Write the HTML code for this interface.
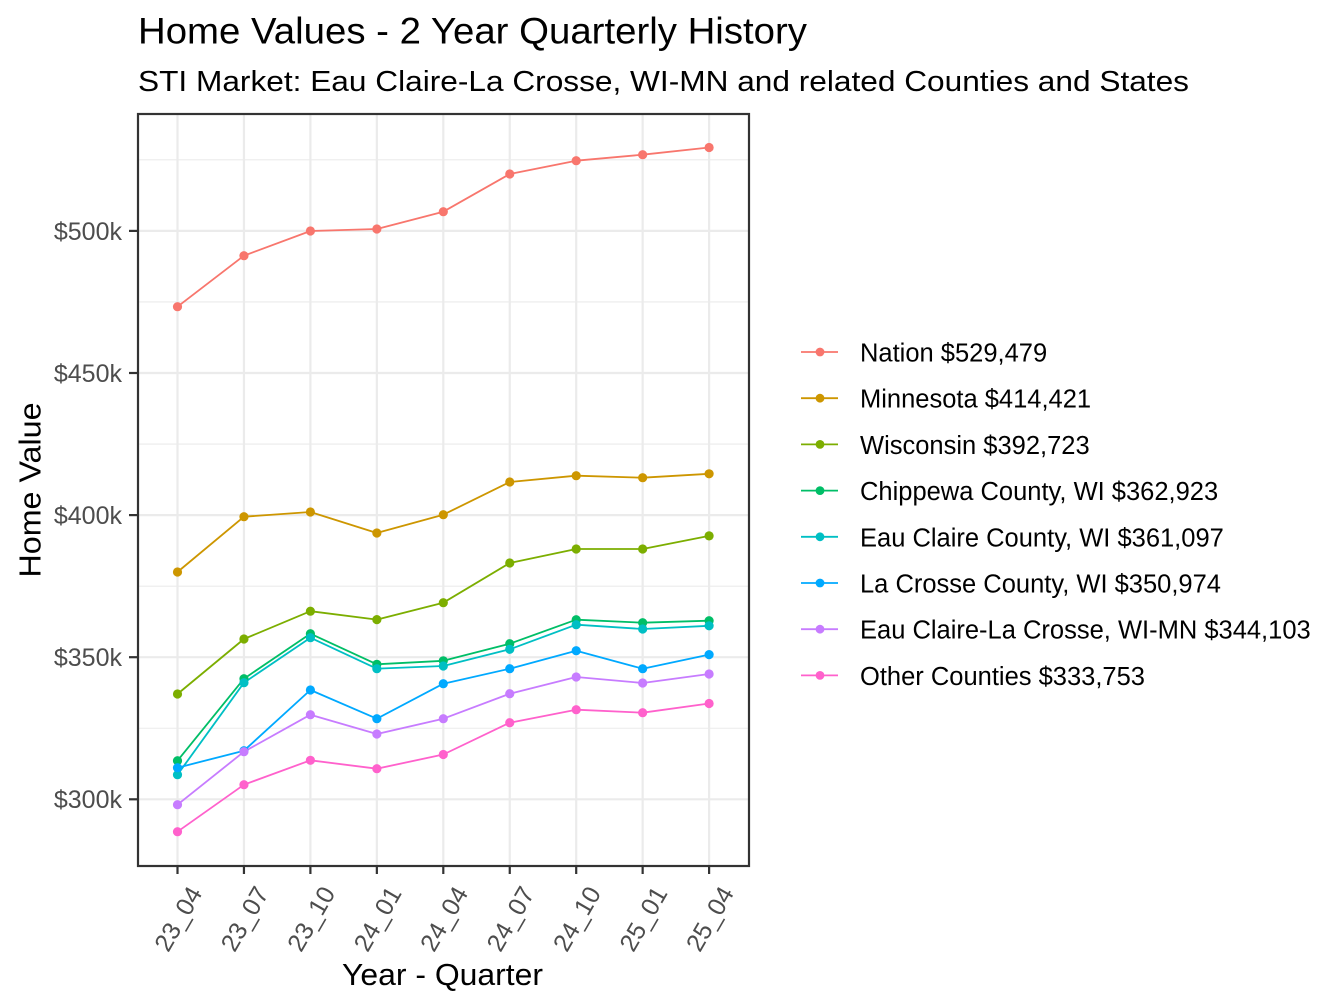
<!DOCTYPE html>
<html><head><meta charset="utf-8"><style>
html,body{margin:0;padding:0;background:#fff;}
svg{display:block;}
text{font-family:"Liberation Sans",Arial,sans-serif;}
</style></head><body>
<svg width="1344" height="1008" viewBox="0 0 1344 1008" xmlns="http://www.w3.org/2000/svg">
<rect x="0" y="0" width="1344" height="1008" fill="#fff"/>
<!-- titles -->
<text x="138" y="43.5" font-size="37" fill="#000" textLength="669" lengthAdjust="spacingAndGlyphs">Home Values - 2 Year Quarterly History</text>
<text x="138" y="91" font-size="29" fill="#000" textLength="1051" lengthAdjust="spacingAndGlyphs">STI Market: Eau Claire-La Crosse, WI-MN and related Counties and States</text>
<!-- panel -->
<rect x="138" y="114" width="611" height="752" fill="#fff"/>
<g stroke="#EBEBEB" stroke-width="1.1">
<line x1="138" x2="749" y1="159.85" y2="159.85"/>
<line x1="138" x2="749" y1="301.95" y2="301.95"/>
<line x1="138" x2="749" y1="444.05" y2="444.05"/>
<line x1="138" x2="749" y1="586.15" y2="586.15"/>
<line x1="138" x2="749" y1="728.25" y2="728.25"/>
</g>
<g stroke="#EBEBEB" stroke-width="2.2">
<line x1="138" x2="749" y1="230.9" y2="230.9"/>
<line x1="138" x2="749" y1="373" y2="373"/>
<line x1="138" x2="749" y1="515.1" y2="515.1"/>
<line x1="138" x2="749" y1="657.2" y2="657.2"/>
<line x1="138" x2="749" y1="799.3" y2="799.3"/>
<line y1="114" y2="866" x1="177.5" x2="177.5"/>
<line y1="114" y2="866" x1="243.95" x2="243.95"/>
<line y1="114" y2="866" x1="310.4" x2="310.4"/>
<line y1="114" y2="866" x1="376.85" x2="376.85"/>
<line y1="114" y2="866" x1="443.3" x2="443.3"/>
<line y1="114" y2="866" x1="509.75" x2="509.75"/>
<line y1="114" y2="866" x1="576.2" x2="576.2"/>
<line y1="114" y2="866" x1="642.65" x2="642.65"/>
<line y1="114" y2="866" x1="709.1" x2="709.1"/>
</g>
<!-- lines -->
<g fill="none" stroke-width="1.8" stroke-linejoin="round">
<polyline stroke="#F8766D" points="177.5,306.7 243.95,255.7 310.4,231 376.85,229 443.3,211.7 509.75,174 576.2,160.7 642.65,154.7 709.1,147.5"/>
<polyline stroke="#CD9600" points="177.5,572 243.95,516.7 310.4,512 376.85,533 443.3,514.7 509.75,482 576.2,475.7 642.65,477.7 709.1,473.8"/>
<polyline stroke="#7CAE00" points="177.5,694 243.95,639 310.4,611.2 376.85,619.6 443.3,602.7 509.75,563 576.2,549 642.65,549 709.1,535.9"/>
<polyline stroke="#00BE67" points="177.5,760.7 243.95,678.7 310.4,633.7 376.85,664.3 443.3,660.8 509.75,643.7 576.2,619.7 642.65,622.7 709.1,620.7"/>
<polyline stroke="#00BFC4" points="177.5,774.7 243.95,682.7 310.4,637.7 376.85,668.7 443.3,666 509.75,649.3 576.2,624.7 642.65,629 709.1,625.8"/>
<polyline stroke="#00A9FF" points="177.5,767.7 243.95,750.7 310.4,690 376.85,718.7 443.3,683.7 509.75,668.7 576.2,650.7 642.65,668.7 709.1,654.6"/>
<polyline stroke="#C77CFF" points="177.5,804.7 243.95,751.7 310.4,714.7 376.85,734 443.3,718.7 509.75,693.7 576.2,677 642.65,683 709.1,674"/>
<polyline stroke="#FF61CC" points="177.5,831.7 243.95,784.7 310.4,760.3 376.85,768.7 443.3,754.5 509.75,722.7 576.2,709.7 642.65,712.7 709.1,703.5"/>
</g>
<!-- points -->
<g fill="#F8766D"><circle cx="177.5" cy="306.7" r="4.6"/><circle cx="243.95" cy="255.7" r="4.6"/><circle cx="310.4" cy="231" r="4.6"/><circle cx="376.85" cy="229" r="4.6"/><circle cx="443.3" cy="211.7" r="4.6"/><circle cx="509.75" cy="174" r="4.6"/><circle cx="576.2" cy="160.7" r="4.6"/><circle cx="642.65" cy="154.7" r="4.6"/><circle cx="709.1" cy="147.5" r="4.6"/></g>
<g fill="#CD9600"><circle cx="177.5" cy="572" r="4.6"/><circle cx="243.95" cy="516.7" r="4.6"/><circle cx="310.4" cy="512" r="4.6"/><circle cx="376.85" cy="533" r="4.6"/><circle cx="443.3" cy="514.7" r="4.6"/><circle cx="509.75" cy="482" r="4.6"/><circle cx="576.2" cy="475.7" r="4.6"/><circle cx="642.65" cy="477.7" r="4.6"/><circle cx="709.1" cy="473.8" r="4.6"/></g>
<g fill="#7CAE00"><circle cx="177.5" cy="694" r="4.6"/><circle cx="243.95" cy="639" r="4.6"/><circle cx="310.4" cy="611.2" r="4.6"/><circle cx="376.85" cy="619.6" r="4.6"/><circle cx="443.3" cy="602.7" r="4.6"/><circle cx="509.75" cy="563" r="4.6"/><circle cx="576.2" cy="549" r="4.6"/><circle cx="642.65" cy="549" r="4.6"/><circle cx="709.1" cy="535.9" r="4.6"/></g>
<g fill="#00BE67"><circle cx="177.5" cy="760.7" r="4.6"/><circle cx="243.95" cy="678.7" r="4.6"/><circle cx="310.4" cy="633.7" r="4.6"/><circle cx="376.85" cy="664.3" r="4.6"/><circle cx="443.3" cy="660.8" r="4.6"/><circle cx="509.75" cy="643.7" r="4.6"/><circle cx="576.2" cy="619.7" r="4.6"/><circle cx="642.65" cy="622.7" r="4.6"/><circle cx="709.1" cy="620.7" r="4.6"/></g>
<g fill="#00BFC4"><circle cx="177.5" cy="774.7" r="4.6"/><circle cx="243.95" cy="682.7" r="4.6"/><circle cx="310.4" cy="637.7" r="4.6"/><circle cx="376.85" cy="668.7" r="4.6"/><circle cx="443.3" cy="666" r="4.6"/><circle cx="509.75" cy="649.3" r="4.6"/><circle cx="576.2" cy="624.7" r="4.6"/><circle cx="642.65" cy="629" r="4.6"/><circle cx="709.1" cy="625.8" r="4.6"/></g>
<g fill="#00A9FF"><circle cx="177.5" cy="767.7" r="4.6"/><circle cx="243.95" cy="750.7" r="4.6"/><circle cx="310.4" cy="690" r="4.6"/><circle cx="376.85" cy="718.7" r="4.6"/><circle cx="443.3" cy="683.7" r="4.6"/><circle cx="509.75" cy="668.7" r="4.6"/><circle cx="576.2" cy="650.7" r="4.6"/><circle cx="642.65" cy="668.7" r="4.6"/><circle cx="709.1" cy="654.6" r="4.6"/></g>
<g fill="#C77CFF"><circle cx="177.5" cy="804.7" r="4.6"/><circle cx="243.95" cy="751.7" r="4.6"/><circle cx="310.4" cy="714.7" r="4.6"/><circle cx="376.85" cy="734" r="4.6"/><circle cx="443.3" cy="718.7" r="4.6"/><circle cx="509.75" cy="693.7" r="4.6"/><circle cx="576.2" cy="677" r="4.6"/><circle cx="642.65" cy="683" r="4.6"/><circle cx="709.1" cy="674" r="4.6"/></g>
<g fill="#FF61CC"><circle cx="177.5" cy="831.7" r="4.6"/><circle cx="243.95" cy="784.7" r="4.6"/><circle cx="310.4" cy="760.3" r="4.6"/><circle cx="376.85" cy="768.7" r="4.6"/><circle cx="443.3" cy="754.5" r="4.6"/><circle cx="509.75" cy="722.7" r="4.6"/><circle cx="576.2" cy="709.7" r="4.6"/><circle cx="642.65" cy="712.7" r="4.6"/><circle cx="709.1" cy="703.5" r="4.6"/></g>
<!-- border -->
<rect x="138" y="114" width="611" height="752" fill="none" stroke="#333333" stroke-width="2.2"/>
<!-- ticks -->
<g stroke="#333333" stroke-width="2.2">
<line x1="129" x2="138" y1="230.9" y2="230.9"/>
<line x1="129" x2="138" y1="373" y2="373"/>
<line x1="129" x2="138" y1="515.1" y2="515.1"/>
<line x1="129" x2="138" y1="657.2" y2="657.2"/>
<line x1="129" x2="138" y1="799.3" y2="799.3"/>
<line y1="866" y2="874" x1="177.5" x2="177.5"/>
<line y1="866" y2="874" x1="243.95" x2="243.95"/>
<line y1="866" y2="874" x1="310.4" x2="310.4"/>
<line y1="866" y2="874" x1="376.85" x2="376.85"/>
<line y1="866" y2="874" x1="443.3" x2="443.3"/>
<line y1="866" y2="874" x1="509.75" x2="509.75"/>
<line y1="866" y2="874" x1="576.2" x2="576.2"/>
<line y1="866" y2="874" x1="642.65" x2="642.65"/>
<line y1="866" y2="874" x1="709.1" x2="709.1"/>
</g>
<g font-size="25" fill="#4D4D4D" text-anchor="end">
<text x="122" y="240">$500k</text>
<text x="122" y="382">$450k</text>
<text x="122" y="524">$400k</text>
<text x="122" y="666">$350k</text>
<text x="122" y="808">$300k</text>
</g>
<g font-size="25" fill="#4D4D4D" text-anchor="end">
<text transform="translate(203,893) rotate(-60)">23_04</text>
<text transform="translate(269.45,893) rotate(-60)">23_07</text>
<text transform="translate(335.9,893) rotate(-60)">23_10</text>
<text transform="translate(402.35,893) rotate(-60)">24_01</text>
<text transform="translate(468.8,893) rotate(-60)">24_04</text>
<text transform="translate(535.25,893) rotate(-60)">24_07</text>
<text transform="translate(601.7,893) rotate(-60)">24_10</text>
<text transform="translate(668.15,893) rotate(-60)">25_01</text>
<text transform="translate(734.6,893) rotate(-60)">25_04</text>
</g>
<!-- axis titles -->
<text x="442.5" y="985" font-size="31" fill="#000" text-anchor="middle" textLength="201" lengthAdjust="spacingAndGlyphs">Year - Quarter</text>
<text transform="translate(40.5,490) rotate(-90)" font-size="31" fill="#000" text-anchor="middle" textLength="175" lengthAdjust="spacingAndGlyphs">Home Value</text>
<!-- legend -->
<g stroke-width="1.8">
<line x1="801" x2="838" y1="352" y2="352" stroke="#F8766D"/>
<line x1="801" x2="838" y1="398.2" y2="398.2" stroke="#CD9600"/>
<line x1="801" x2="838" y1="444.4" y2="444.4" stroke="#7CAE00"/>
<line x1="801" x2="838" y1="490.6" y2="490.6" stroke="#00BE67"/>
<line x1="801" x2="838" y1="536.8" y2="536.8" stroke="#00BFC4"/>
<line x1="801" x2="838" y1="583" y2="583" stroke="#00A9FF"/>
<line x1="801" x2="838" y1="629.2" y2="629.2" stroke="#C77CFF"/>
<line x1="801" x2="838" y1="675.4" y2="675.4" stroke="#FF61CC"/>
</g>
<circle cx="820" cy="352" r="4.4" fill="#F8766D"/>
<circle cx="820" cy="398.2" r="4.4" fill="#CD9600"/>
<circle cx="820" cy="444.4" r="4.4" fill="#7CAE00"/>
<circle cx="820" cy="490.6" r="4.4" fill="#00BE67"/>
<circle cx="820" cy="536.8" r="4.4" fill="#00BFC4"/>
<circle cx="820" cy="583" r="4.4" fill="#00A9FF"/>
<circle cx="820" cy="629.2" r="4.4" fill="#C77CFF"/>
<circle cx="820" cy="675.4" r="4.4" fill="#FF61CC"/>
<g font-size="25.5" fill="#000">
<text x="860" y="361.5">Nation $529,479</text>
<text x="860" y="407.7">Minnesota $414,421</text>
<text x="860" y="453.9">Wisconsin $392,723</text>
<text x="860" y="500.1">Chippewa County, WI $362,923</text>
<text x="860" y="546.3">Eau Claire County, WI $361,097</text>
<text x="860" y="592.5">La Crosse County, WI $350,974</text>
<text x="860" y="638.7">Eau Claire-La Crosse, WI-MN $344,103</text>
<text x="860" y="684.9">Other Counties $333,753</text>
</g>
</svg>
</body></html>
